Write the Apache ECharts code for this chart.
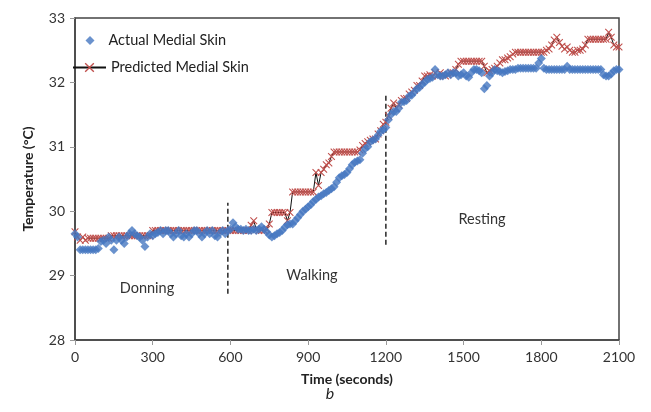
<!DOCTYPE html>
<html>
<head>
<meta charset="utf-8">
<script src="https://cdn.jsdelivr.net/npm/echarts@6/dist/echarts.min.js"></script>
<style>html,body{margin:0;padding:0;background:#fff;}#c{width:651px;height:412px;}</style>
</head>
<body>
<div id="c"></div>
<script>
const time = [
0,10,20,30,40,50,60,70,80,90,
100,110,120,130,140,150,160,170,180,190,
200,210,220,230,240,250,260,270,280,290,
300,310,320,330,340,350,360,370,380,390,
400,410,420,430,440,450,460,470,480,490,
500,510,520,530,540,550,560,570,580,590,
600,610,620,630,640,650,660,670,680,690,
700,710,720,730,740,750,760,770,780,790,
800,810,820,830,840,850,860,870,880,890,
900,910,920,930,940,950,960,970,980,990,
1000,1010,1020,1030,1040,1050,1060,1070,1080,1090,
1100,1110,1120,1130,1140,1150,1160,1170,1180,1190,
1200,1210,1220,1230,1240,1250,1260,1270,1280,1290,
1300,1310,1320,1330,1340,1350,1360,1370,1380,1390,
1400,1410,1420,1430,1440,1450,1460,1470,1480,1490,
1500,1510,1520,1530,1540,1550,1560,1570,1580,1590,
1600,1610,1620,1630,1640,1650,1660,1670,1680,1690,
1700,1710,1720,1730,1740,1750,1760,1770,1780,1790,
1800,1810,1820,1830,1840,1850,1860,1870,1880,1890,
1900,1910,1920,1930,1940,1950,1960,1970,1980,1990,
2000,2010,2020,2030,2040,2050,2060,2070,2080,2090,
2100
];
const actual = [
29.65,29.6,29.4,29.4,29.4,29.4,29.4,29.4,29.4,29.42,
29.53,29.55,29.5,29.6,29.55,29.4,29.55,29.6,29.55,29.5,
29.6,29.65,29.7,29.65,29.62,29.6,29.55,29.45,29.6,29.65,
29.62,29.65,29.67,29.7,29.65,29.7,29.7,29.65,29.6,29.65,
29.7,29.62,29.6,29.65,29.6,29.65,29.7,29.7,29.65,29.6,
29.65,29.7,29.65,29.7,29.62,29.6,29.67,29.7,29.65,29.7,
29.72,29.82,29.76,29.72,29.72,29.7,29.72,29.7,29.7,29.72,
29.7,29.72,29.76,29.72,29.68,29.63,29.6,29.62,29.65,29.67,
29.7,29.75,29.79,29.8,29.8,29.85,29.9,29.95,30.0,30.03,
30.07,30.1,30.15,30.18,30.22,30.24,30.27,30.29,30.32,30.35,
30.38,30.45,30.52,30.55,30.57,30.6,30.66,30.72,30.76,30.78,
30.8,30.9,30.97,31.0,31.08,31.1,31.12,31.18,31.24,31.26,
31.3,31.42,31.5,31.55,31.55,31.6,31.69,31.7,31.72,31.79,
31.8,31.85,31.9,31.92,31.97,32.0,32.05,32.06,32.08,32.2,
32.12,32.1,32.1,32.12,32.15,32.12,32.15,32.15,32.1,32.12,
32.15,32.1,32.08,32.15,32.2,32.2,32.18,32.15,31.9,31.95,
32.1,32.15,32.2,32.18,32.17,32.15,32.17,32.18,32.2,32.2,
32.2,32.22,32.22,32.22,32.22,32.22,32.22,32.22,32.22,32.3,
32.37,32.22,32.2,32.2,32.2,32.2,32.2,32.2,32.2,32.2,
32.25,32.2,32.2,32.2,32.2,32.2,32.2,32.2,32.2,32.2,
32.2,32.2,32.2,32.2,32.12,32.1,32.1,32.13,32.18,32.2,
32.2
];
const predicted = [
29.68,29.6,29.55,29.6,29.55,29.58,29.58,29.58,29.58,29.58,
29.58,29.58,29.58,29.58,29.62,29.62,29.62,29.62,29.62,29.62,
29.62,29.62,29.62,29.62,29.62,29.62,29.62,29.62,29.62,29.62,
29.7,29.7,29.7,29.7,29.7,29.7,29.7,29.7,29.7,29.7,
29.7,29.7,29.7,29.7,29.7,29.7,29.7,29.7,29.7,29.7,
29.7,29.7,29.7,29.7,29.7,29.7,29.7,29.7,29.7,29.7,
29.7,29.7,29.7,29.7,29.7,29.7,29.7,29.7,29.78,29.85,
29.72,29.7,29.7,29.7,29.72,29.8,29.98,29.98,29.98,29.98,
29.98,29.98,29.85,29.98,30.3,30.3,30.3,30.3,30.3,30.3,
30.3,30.3,30.3,30.6,30.4,30.6,30.65,30.72,30.75,30.85,
30.92,30.92,30.92,30.92,30.92,30.92,30.92,30.92,30.92,30.92,
30.95,31.02,31.05,31.08,31.1,31.12,31.12,31.2,31.25,31.35,
31.38,31.48,31.6,31.68,31.6,31.65,31.72,31.75,31.75,31.82,
31.85,31.88,31.95,31.95,32.02,32.1,32.1,32.12,32.1,32.15,
32.1,32.15,32.12,32.1,32.12,32.15,32.15,32.2,32.28,32.33,
32.33,32.33,32.33,32.33,32.33,32.33,32.33,32.33,32.25,32.15,
32.18,32.2,32.22,32.25,32.3,32.35,32.35,32.38,32.4,32.44,
32.47,32.47,32.47,32.47,32.47,32.47,32.47,32.47,32.47,32.47,
32.47,32.47,32.5,32.52,32.58,32.66,32.7,32.62,32.56,32.52,
32.55,32.5,32.47,32.47,32.5,32.5,32.52,32.58,32.67,32.67,
32.67,32.67,32.67,32.67,32.67,32.67,32.78,32.7,32.58,32.55,
32.55
];
const xTicks = [0, 2100, 300];
const yTicks = [28, 33, 1];
const phaseLineX = [590, 1200];
const phaseLineY = [[28.72, 30.13], [29.48, 31.83]];
const phaseNames = ['Donning', 'Walking', 'Resting'];
const seriesNames = ['Actual Medial Skin', 'Predicted Medial Skin'];

const FONT = 'Lato, "Open Sans", sans-serif';
const crossPath = 'path://M0,1L1,0L5,4L9,0L10,1L6,5L10,9L9,10L5,6L1,10L0,9L4,5Z';

const chart = echarts.init(document.getElementById('c'), null, {renderer: 'canvas'});
const actData = time.map((t, i) => [t, actual[i]]);
const preData = time.map((t, i) => [t, predicted[i]]);

const dashSeries = phaseLineX.map((x, i) => ({
  type: 'line',
  data: [[x, phaseLineY[i][0]], [x, phaseLineY[i][1]]],
  symbol: 'none',
  silent: true,
  lineStyle: {color: '#333', width: 1.6, type: [5, 3]},
  z: 1
}));

const legendText = {fontFamily: FONT, fontSize: 14.5, color: '#222'};

chart.setOption({
  animation: false,
  backgroundColor: '#fff',
  title: {
    text: 'b', left: 325, top: 381, textAlign: 'center',
    textStyle: {fontFamily: FONT, fontStyle: 'italic', fontWeight: 'normal', fontSize: 16, color: '#222'}
  },
  grid: {left: 75, right: 32, top: 18, bottom: 72, show: true, borderColor: '#444', borderWidth: 1.5, containLabel: false},
  legend: [
    {
      data: [seriesNames[0]],
      left: 80.5, top: 28,
      itemWidth: 9, itemHeight: 9, itemGap: 0,
      textStyle: Object.assign({padding: [0, 0, 0, 9]}, legendText)
    },
    {
      data: [seriesNames[1]],
      left: 67, top: 55,
      itemWidth: 33, itemHeight: 12,
      textStyle: legendText
    }
  ],
  xAxis: {
    type: 'value', min: xTicks[0], max: xTicks[1], interval: xTicks[2],
    name: 'Time (seconds)', nameLocation: 'middle', nameGap: 32,
    nameTextStyle: {fontFamily: FONT, fontWeight: 'bold', fontSize: 14, color: '#222'},
    axisLine: {show: true, lineStyle: {color: '#444', width: 1.5}},
    axisTick: {show: true, length: 5, inside: false, lineStyle: {color: '#999'}},
    axisLabel: {fontFamily: FONT, fontSize: 14, color: '#333', margin: 10, formatter: v => String(v)},
    splitLine: {show: false}
  },
  yAxis: {
    type: 'value', min: yTicks[0], max: yTicks[1], interval: yTicks[2],
    name: 'Temperature (°C)', nameLocation: 'middle', nameGap: 40, nameRotate: 90,
    nameTextStyle: {fontFamily: FONT, fontWeight: 'bold', fontSize: 14, color: '#222'},
    axisLine: {show: true, lineStyle: {color: '#444', width: 1.5}},
    axisTick: {show: true, length: 5, inside: false, lineStyle: {color: '#999'}},
    axisLabel: {fontFamily: FONT, fontSize: 14, color: '#333', margin: 10, formatter: v => String(v)},
    splitLine: {show: false}
  },
  graphic: [
    {type: 'text', x: 147, y: 288, style: {text: phaseNames[0], font: '14.5px ' + FONT, fill: '#333', textAlign: 'center', textVerticalAlign: 'middle'}},
    {type: 'text', x: 312, y: 275, style: {text: phaseNames[1], font: '14.5px ' + FONT, fill: '#333', textAlign: 'center', textVerticalAlign: 'middle'}},
    {type: 'text', x: 482, y: 219, style: {text: phaseNames[2], font: '14.5px ' + FONT, fill: '#333', textAlign: 'center', textVerticalAlign: 'middle'}}
  ],
  series: [
    {
      name: seriesNames[1], type: 'line', data: preData,
      symbol: crossPath, symbolSize: 7.5, showAllSymbol: true,
      itemStyle: {color: '#c0504d'},
      lineStyle: {color: '#111', width: 1},
      z: 2
    },
    {
      name: seriesNames[0], type: 'scatter', data: actData,
      symbol: 'diamond', symbolSize: 9,
      itemStyle: {color: '#4577c0'},
      z: 3
    }
  ].concat(dashSeries)
});
</script>
</body>
</html>
